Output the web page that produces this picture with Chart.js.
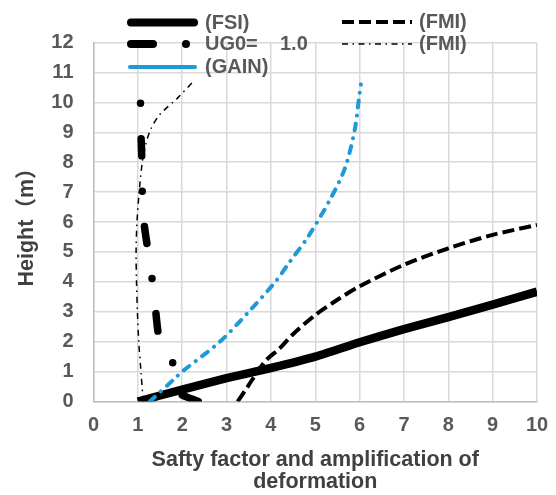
<!DOCTYPE html>
<html>
<head>
<meta charset="utf-8">
<script src="https://cdn.jsdelivr.net/npm/chart.js@4"></script>
<style>
  html, body { margin: 0; padding: 0; background: #fff; }
</style>
</head>
<body>
<canvas id="chart" width="556" height="495"></canvas>
<script>
// values (x = factor, y = height in m)
const fsiX = [1.0, 2, 3, 4, 5, 6, 7, 8, 9, 10];
const fsiY = [0, 0.4, 0.78, 1.12, 1.5, 1.98, 2.42, 2.82, 3.24, 3.67];

const ug0X = [2.36, 1.89, 1.78, 1.55, 1.46, 1.40, 1.32, 1.22, 1.14, 1.10, 1.09, 1.07, 1.06, 1.06];
const ug0Y = [0, 0.33, 1.33, 2.0, 2.28, 3.06, 4.1, 5.12, 5.96, 7.02, 8.08, 8.97, 9.97, 10.1];

const gainX = [1.27, 1.84, 2.0, 2.85, 3.5, 4.1, 4.43, 4.84, 5.33, 5.67, 5.89, 5.99, 6.03];
const gainY = [0, 0.78, 1.0, 2.0, 3.0, 4.0, 4.68, 5.51, 6.74, 7.8, 9.08, 10.19, 10.6];

const fmiX = [3.25, 3.5, 3.7, 3.9, 4.2, 4.5, 5, 5.5, 6, 7, 8, 9, 10];
const fmiY = [0, 0.55, 1.0, 1.39, 1.78, 2.25, 2.89, 3.4, 3.85, 4.57, 5.12, 5.57, 5.9];

const fmi2X = [1.12, 1.07, 1.02, 0.99, 0.97, 0.96, 0.98, 1.03, 1.1, 1.18, 1.29, 1.5, 1.9, 2.25];
const fmi2Y = [0, 1, 2, 3, 4, 5, 6, 7, 8, 8.6, 9.1, 9.6, 10.15, 10.7];

const xTicks = [0, 1, 2, 3, 4, 5, 6, 7, 8, 9, 10];
const yTicks = [0, 1, 2, 3, 4, 5, 6, 7, 8, 9, 10, 11, 12];

const xTitle = ['Safty factor and amplification of', 'deformation'];
const yTitle = 'Height（m）';

const FONT = '"Liberation Sans", Arial, "Noto Sans CJK SC", sans-serif';

function pts(xs, ys) {
    return xs.map((x, i) => ({ x: x, y: ys[i] }));
}

// legend drawn by hand so it sits in two columns like the original
const legendPlugin = {
    id: 'handLegend',
    afterDraw(chart) {
        const ctx = chart.ctx;
        ctx.save();
        ctx.strokeStyle = '#000';

        // (FSI) thick solid
        ctx.lineWidth = 8; ctx.lineCap = 'round'; ctx.setLineDash([]);
        ctx.beginPath(); ctx.moveTo(131, 22.5); ctx.lineTo(194, 22.5); ctx.stroke();

        // UG0 long dash + dot
        ctx.beginPath(); ctx.moveTo(131, 44); ctx.lineTo(153, 44); ctx.stroke();
        ctx.fillStyle = '#000';
        ctx.beginPath(); ctx.arc(186, 44, 4, 0, Math.PI * 2); ctx.fill();

        // (GAIN) blue solid
        ctx.strokeStyle = '#1f9ad6'; ctx.lineWidth = 4;
        ctx.beginPath(); ctx.moveTo(130, 67); ctx.lineTo(195, 67); ctx.stroke();

        // (FMI) dashed
        ctx.strokeStyle = '#000'; ctx.lineCap = 'butt';
        ctx.lineWidth = 4; ctx.setLineDash([12, 5]);
        ctx.beginPath(); ctx.moveTo(342, 22); ctx.lineTo(412, 22); ctx.stroke();

        // (FMI) thin dash-dot
        ctx.lineWidth = 1.5; ctx.setLineDash([6, 4.5, 1.5, 4.5]);
        ctx.beginPath(); ctx.moveTo(342, 44); ctx.lineTo(412, 44); ctx.stroke();
        ctx.setLineDash([]);

        ctx.font = 'bold 20px ' + FONT;
        ctx.fillStyle = '#595959';
        ctx.textBaseline = 'middle';
        ctx.fillText('(FSI)', 205, 23);
        ctx.fillText('UG0=', 205, 44.5);
        ctx.fillText('1.0', 280, 44.5);
        ctx.fillText('(GAIN)', 205, 67.5);
        ctx.fillText('(FMI)', 419, 22.5);
        ctx.fillText('(FMI)', 419, 44.5);
        ctx.restore();
    }
};

new Chart(document.getElementById('chart'), {
    type: 'scatter',
    data: {
        datasets: [
            {
                label: '(GAIN)', data: pts(gainX, gainY), order: 0,
                showLine: true, pointRadius: 0, borderColor: '#1f9ad6',
                borderWidth: 4, borderCapStyle: 'round', borderDash: [7, 8, 0.1, 8], tension: 0.3
            },
            {
                label: '(FSI)', data: pts(fsiX, fsiY), order: 1,
                showLine: true, pointRadius: 0, borderColor: '#000',
                borderWidth: 8.5, tension: 0.2
            },
            {
                label: 'UG0= 1.0', data: pts(ug0X, ug0Y), order: 2,
                showLine: true, pointRadius: 0, borderColor: '#000',
                borderWidth: 7.5, borderCapStyle: 'round', borderJoinStyle: 'round',
                borderDash: [17, 35.5, 0, 35.5], tension: 0.2
            },
            {
                label: '(FMI)', data: pts(fmiX, fmiY), order: 3,
                showLine: true, pointRadius: 0, borderColor: '#000',
                borderWidth: 4, borderDash: [12, 5], tension: 0.3
            },
            {
                label: '(FMI) ', data: pts(fmi2X, fmi2Y), order: 4,
                showLine: true, pointRadius: 0, borderColor: '#000',
                borderWidth: 1.5, borderDash: [6, 4.5, 1.5, 4.5], tension: 0.3
            }
        ]
    },
    options: {
        responsive: false,
        animation: false,
        layout: { padding: { top: 42.5, right: 19, left: 0, bottom: 0 } },
        plugins: { legend: { display: false }, tooltip: { enabled: false } },
        scales: {
            x: {
                type: 'linear', min: 0, max: 10,
                afterFit: s => { s.height = 93.5; s.paddingLeft = 0; s.paddingRight = 0; },
                afterBuildTicks: s => { s.ticks = xTicks.map(v => ({ value: v })); },
                grid: { color: '#d9d9d9', lineWidth: 1.5, drawTicks: false },
                border: { color: '#bfbfbf', width: 1.5 },
                ticks: { color: '#595959', padding: 12, font: { family: FONT, size: 20, weight: 'bold' } },
                title: {
                    display: true, text: xTitle, color: '#404040',
                    padding: { top: 0, bottom: 1.5 },
                    font: { family: FONT, size: 21.5, weight: 'bold', lineHeight: '22px' }
                }
            },
            y: {
                type: 'linear', min: 0, max: 12,
                afterFit: s => { s.width = 93.5; s.paddingTop = 0; s.paddingBottom = 0; },
                afterBuildTicks: s => { s.ticks = yTicks.map(v => ({ value: v })); },
                grid: { color: '#d9d9d9', lineWidth: 1.5, drawTicks: false },
                border: { color: '#bfbfbf', width: 1.5 },
                ticks: { color: '#595959', padding: 20, font: { family: FONT, size: 20, weight: 'bold' } },
                title: {
                    display: true, text: yTitle, color: '#404040',
                    padding: { top: 16, bottom: 0 },
                    font: { family: FONT, size: 21.5, weight: 'bold', lineHeight: '22px' }
                }
            }
        }
    },
    plugins: [legendPlugin]
});
</script>
</body>
</html>
